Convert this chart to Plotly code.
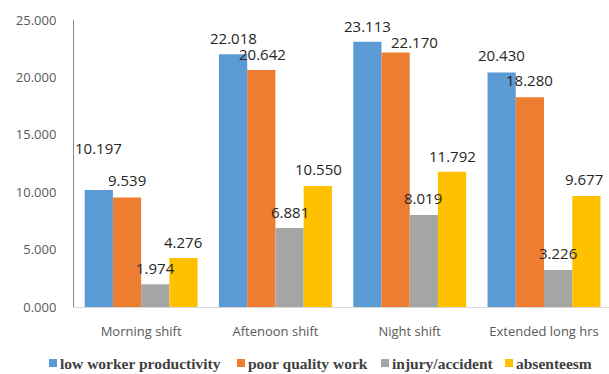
import plotly.graph_objects as go

# Shift categories and the four outcome series
categories = ["Morning shift", "Aftenoon shift", "Night shift", "Extended long hrs"]
low_worker_productivity = [10.197, 22.018, 23.113, 20.430]
poor_quality_work = [9.539, 20.642, 22.170, 18.280]
injury_accident = [1.974, 6.881, 8.019, 3.226]
absenteesm = [4.276, 10.550, 11.792, 9.677]

series_names = ["low worker productivity", "poor quality work", "injury/accident", "absenteesm"]
series_values = [low_worker_productivity, poor_quality_work, injury_accident, absenteesm]
y_ticks = [0, 5, 10, 15, 20, 25]

colors = ["#5B9BD5", "#ED7D31", "#A5A5A5", "#FFC000"]

# pixel nudges (dx, dy-up) for each value label, per category then series
label_nudge = [
    [(0, 42), (0, 17), (0, 16), (0, 16)],
    [(0, 16), (1, 16), (0, 16), (1, 17)],
    [(0, 16), (19, 10), (-1, 17), (0, 16)],
    [(0, 17), (0, 17), (0, 17), (-2, 17)],
]

# figure geometry (pixels)
W, H = 609, 374
ML, MR, MT, MB = 74, 0, 20, 67
PW, PH = W - ML - MR, H - MT - MB

# legend key positions: left edge of each swatch, in pixels
legend_x = [49, 237, 381, 505]
legend_y = 363
swatch = 8

bargap = 0.159
n_series = len(series_names)
bar_w = (1 - bargap) / n_series

fig = go.Figure()
for name, vals, col in zip(series_names, series_values, colors):
    fig.add_trace(go.Bar(
        name=name, x=categories, y=vals,
        marker=dict(color=col, line=dict(width=0)),
        showlegend=False,
    ))

annotations = []
for s, vals in enumerate(series_values):
    offset = (s - (n_series - 1) / 2) * bar_w
    for c, v in enumerate(vals):
        dx, dy = label_nudge[c][s]
        annotations.append(dict(
            x=c + offset, y=v, xref="x", yref="y",
            text=f"{v:.3f}", showarrow=False,
            xanchor="center", yanchor="middle",
            xshift=dx, yshift=dy,
            font=dict(family="Open Sans", size=15, color="#262626"),
        ))


def px_x(p):
    return (p - ML) / PW


def px_y(p):
    return (H - MB - p) / PH


# legend row below the axis: coloured swatch + bold serif label
shapes = []
for name, col, lx in zip(series_names, colors, legend_x):
    shapes.append(dict(
        type="rect", xref="paper", yref="paper",
        x0=px_x(lx), x1=px_x(lx + swatch),
        y0=px_y(legend_y + swatch / 2), y1=px_y(legend_y - swatch / 2),
        fillcolor=col, line=dict(width=0),
    ))
    annotations.append(dict(
        x=px_x(lx + swatch + 1), y=px_y(legend_y), xref="paper", yref="paper",
        text=f"<b>{name}</b>", showarrow=False,
        xanchor="left", yanchor="middle",
        font=dict(family="Liberation Serif", size=15.5, color="#404040"),
    ))

fig.update_layout(
    width=W, height=H,
    margin=dict(l=ML, r=MR, t=MT, b=MB, autoexpand=False),
    paper_bgcolor="white", plot_bgcolor="white",
    barmode="group", bargap=bargap, bargroupgap=0,
    annotations=annotations,
    shapes=shapes,
    showlegend=False,
    xaxis=dict(
        type="category", range=[-0.5, 3.484],
        showline=True, linecolor="#D9D9D9", linewidth=1,
        ticks="", showgrid=False, zeroline=False,
        tickfont=dict(family="Open Sans", size=13, color="#595959"),
        ticklabelstandoff=12,
    ),
    yaxis=dict(
        range=[0, 25], tickvals=y_ticks, tickformat=".3f",
        showline=True, linecolor="#868686", linewidth=1,
        ticks="", showgrid=False, zeroline=False,
        tickfont=dict(family="Open Sans", size=13, color="#595959"),
        ticklabelstandoff=14,
    ),
)

fig.write_html("out.html")
